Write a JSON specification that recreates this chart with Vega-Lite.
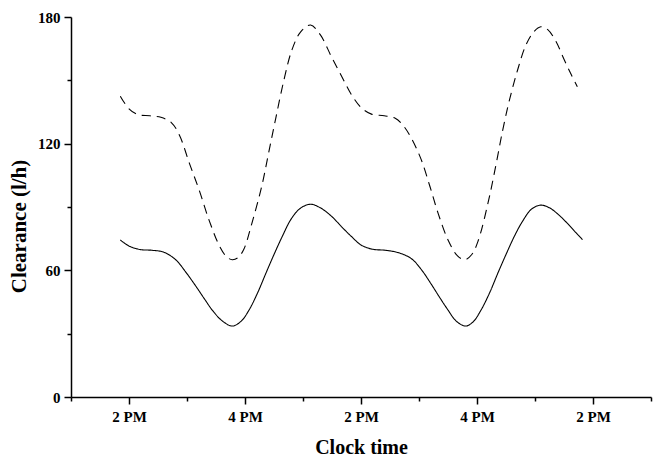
{
  "$schema": "https://vega.github.io/schema/vega-lite/v6.json",
  "width": 580,
  "height": 380,
  "autosize": {"type": "none"},
  "padding": {"left": 71, "top": 17, "right": 2, "bottom": 61},
  "background": "white",
  "config": {
    "view": {"stroke": null},
    "font": "Liberation Serif",
    "axis": {
      "grid": false,
      "domainColor": "black",
      "domainWidth": 1.5,
      "tickColor": "black",
      "tickWidth": 1.5,
      "labelColor": "black",
      "titleColor": "black",
      "labelFont": "Liberation Serif",
      "titleFont": "Liberation Serif",
      "labelFontWeight": "bold",
      "titleFontWeight": "bold"
    }
  },
  "data": {
    "values": [
      {"t": 0.85, "clearance": 142.5, "series": "dashed"},
      {"t": 1.00, "clearance": 136.5, "series": "dashed"},
      {"t": 1.15, "clearance": 133.8, "series": "dashed"},
      {"t": 1.36, "clearance": 133.2, "series": "dashed"},
      {"t": 1.55, "clearance": 132.5, "series": "dashed"},
      {"t": 1.73, "clearance": 130.0, "series": "dashed"},
      {"t": 1.87, "clearance": 124.0, "series": "dashed"},
      {"t": 2.04, "clearance": 110.8, "series": "dashed"},
      {"t": 2.21, "clearance": 98.0, "series": "dashed"},
      {"t": 2.38, "clearance": 83.8, "series": "dashed"},
      {"t": 2.56, "clearance": 71.5, "series": "dashed"},
      {"t": 2.68, "clearance": 66.5, "series": "dashed"},
      {"t": 2.78, "clearance": 65.0, "series": "dashed"},
      {"t": 2.88, "clearance": 66.0, "series": "dashed"},
      {"t": 2.98, "clearance": 70.0, "series": "dashed"},
      {"t": 3.12, "clearance": 82.4, "series": "dashed"},
      {"t": 3.29, "clearance": 100.0, "series": "dashed"},
      {"t": 3.41, "clearance": 116.0, "series": "dashed"},
      {"t": 3.53, "clearance": 132.0, "series": "dashed"},
      {"t": 3.67, "clearance": 150.0, "series": "dashed"},
      {"t": 3.81, "clearance": 164.5, "series": "dashed"},
      {"t": 3.96, "clearance": 173.0, "series": "dashed"},
      {"t": 4.13, "clearance": 176.2, "series": "dashed"},
      {"t": 4.30, "clearance": 171.5, "series": "dashed"},
      {"t": 4.49, "clearance": 161.2, "series": "dashed"},
      {"t": 4.67, "clearance": 151.7, "series": "dashed"},
      {"t": 4.84, "clearance": 143.0, "series": "dashed"},
      {"t": 5.01, "clearance": 136.9, "series": "dashed"},
      {"t": 5.18, "clearance": 134.0, "series": "dashed"},
      {"t": 5.40, "clearance": 133.2, "series": "dashed"},
      {"t": 5.59, "clearance": 132.0, "series": "dashed"},
      {"t": 5.73, "clearance": 128.5, "series": "dashed"},
      {"t": 5.87, "clearance": 122.5, "series": "dashed"},
      {"t": 6.04, "clearance": 112.3, "series": "dashed"},
      {"t": 6.19, "clearance": 99.6, "series": "dashed"},
      {"t": 6.33, "clearance": 87.0, "series": "dashed"},
      {"t": 6.50, "clearance": 74.4, "series": "dashed"},
      {"t": 6.66, "clearance": 67.0, "series": "dashed"},
      {"t": 6.79, "clearance": 65.0, "series": "dashed"},
      {"t": 6.91, "clearance": 67.5, "series": "dashed"},
      {"t": 7.02, "clearance": 74.0, "series": "dashed"},
      {"t": 7.19, "clearance": 91.9, "series": "dashed"},
      {"t": 7.32, "clearance": 109.0, "series": "dashed"},
      {"t": 7.44, "clearance": 126.0, "series": "dashed"},
      {"t": 7.56, "clearance": 140.7, "series": "dashed"},
      {"t": 7.70, "clearance": 154.9, "series": "dashed"},
      {"t": 7.84, "clearance": 166.5, "series": "dashed"},
      {"t": 7.98, "clearance": 173.0, "series": "dashed"},
      {"t": 8.10, "clearance": 175.4, "series": "dashed"},
      {"t": 8.22, "clearance": 174.0, "series": "dashed"},
      {"t": 8.36, "clearance": 168.5, "series": "dashed"},
      {"t": 8.50, "clearance": 160.0, "series": "dashed"},
      {"t": 8.62, "clearance": 153.0, "series": "dashed"},
      {"t": 8.73, "clearance": 147.0, "series": "dashed"},
      {"t": 0.85, "clearance": 74.4, "series": "solid"},
      {"t": 1.00, "clearance": 71.5, "series": "solid"},
      {"t": 1.20, "clearance": 69.8, "series": "solid"},
      {"t": 1.40, "clearance": 69.5, "series": "solid"},
      {"t": 1.60, "clearance": 68.6, "series": "solid"},
      {"t": 1.81, "clearance": 64.9, "series": "solid"},
      {"t": 1.97, "clearance": 59.5, "series": "solid"},
      {"t": 2.16, "clearance": 52.2, "series": "solid"},
      {"t": 2.30, "clearance": 46.5, "series": "solid"},
      {"t": 2.44, "clearance": 41.0, "series": "solid"},
      {"t": 2.61, "clearance": 36.0, "series": "solid"},
      {"t": 2.78, "clearance": 33.6, "series": "solid"},
      {"t": 2.93, "clearance": 35.8, "series": "solid"},
      {"t": 3.07, "clearance": 41.2, "series": "solid"},
      {"t": 3.22, "clearance": 49.5, "series": "solid"},
      {"t": 3.36, "clearance": 58.6, "series": "solid"},
      {"t": 3.50, "clearance": 67.5, "series": "solid"},
      {"t": 3.64, "clearance": 75.9, "series": "solid"},
      {"t": 3.80, "clearance": 84.5, "series": "solid"},
      {"t": 3.96, "clearance": 89.5, "series": "solid"},
      {"t": 4.13, "clearance": 91.3, "series": "solid"},
      {"t": 4.30, "clearance": 89.6, "series": "solid"},
      {"t": 4.50, "clearance": 85.4, "series": "solid"},
      {"t": 4.67, "clearance": 80.5, "series": "solid"},
      {"t": 4.84, "clearance": 75.9, "series": "solid"},
      {"t": 5.00, "clearance": 72.0, "series": "solid"},
      {"t": 5.20, "clearance": 70.0, "series": "solid"},
      {"t": 5.42, "clearance": 69.5, "series": "solid"},
      {"t": 5.64, "clearance": 68.4, "series": "solid"},
      {"t": 5.87, "clearance": 65.5, "series": "solid"},
      {"t": 6.05, "clearance": 60.0, "series": "solid"},
      {"t": 6.21, "clearance": 53.5, "series": "solid"},
      {"t": 6.36, "clearance": 47.0, "series": "solid"},
      {"t": 6.50, "clearance": 41.2, "series": "solid"},
      {"t": 6.64, "clearance": 36.0, "series": "solid"},
      {"t": 6.80, "clearance": 33.6, "series": "solid"},
      {"t": 6.93, "clearance": 35.5, "series": "solid"},
      {"t": 7.07, "clearance": 41.2, "series": "solid"},
      {"t": 7.22, "clearance": 49.5, "series": "solid"},
      {"t": 7.36, "clearance": 58.7, "series": "solid"},
      {"t": 7.50, "clearance": 67.5, "series": "solid"},
      {"t": 7.64, "clearance": 75.9, "series": "solid"},
      {"t": 7.78, "clearance": 83.0, "series": "solid"},
      {"t": 7.94, "clearance": 89.0, "series": "solid"},
      {"t": 8.10, "clearance": 90.9, "series": "solid"},
      {"t": 8.25, "clearance": 89.6, "series": "solid"},
      {"t": 8.40, "clearance": 86.5, "series": "solid"},
      {"t": 8.55, "clearance": 82.5, "series": "solid"},
      {"t": 8.70, "clearance": 78.0, "series": "solid"},
      {"t": 8.82, "clearance": 74.5, "series": "solid"}
    ]
  },
  "mark": {"type": "line", "interpolate": "catmull-rom", "color": "black", "strokeWidth": 1.1},
  "encoding": {
    "x": {
      "field": "t",
      "type": "quantitative",
      "scale": {"domain": [0, 10], "nice": false, "zero": false},
      "axis": {
        "title": "Clock time",
        "titleFontSize": 20,
        "titleX": 290,
        "titleY": 50,
        "titleBaseline": "middle",
        "values": [0, 1, 2, 3, 4, 5, 6, 7, 8, 9, 10],
        "labelExpr": "datum.value === 1 || datum.value === 5 || datum.value === 9 ? '2 PM' : (datum.value === 3 || datum.value === 7 ? '4 PM' : '')",
        "labelFontSize": 15,
        "labelPadding": 5,
        "tickSize": {"condition": {"test": "datum.value % 2 === 1", "value": 7}, "value": 4}
      }
    },
    "y": {
      "field": "clearance",
      "type": "quantitative",
      "scale": {"domain": [0, 180], "nice": false},
      "axis": {
        "title": "Clearance (l/h)",
        "titleFontSize": 21,
        "titleX": -52,
        "titleY": 209,
        "titleAngle": -90,
        "titleAlign": "center",
        "titleBaseline": "middle",
        "values": [0, 30, 60, 90, 120, 150, 180],
        "labelExpr": "datum.value % 60 === 0 ? datum.label : ''",
        "labelFontSize": 15,
        "labelPadding": 4,
        "tickSize": {"condition": {"test": "datum.value % 60 === 0", "value": 7}, "value": 4}
      }
    },
    "strokeDash": {
      "field": "series",
      "type": "nominal",
      "scale": {"domain": ["solid", "dashed"], "range": [[1, 0], [9, 6]]},
      "legend": null
    }
  }
}
